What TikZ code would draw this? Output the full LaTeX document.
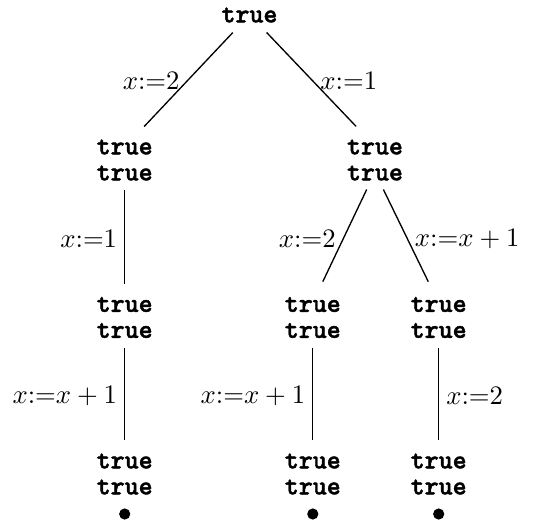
\documentclass[tikz,border=0pt]{standalone}
\usepackage{fontspec}
\usetikzlibrary{positioning}
\newfontfamily\statefont{lmmonolt10-bold}[Extension=.otf,FakeBold=1.6]
\tikzset{
  state/.style={align=center,inner sep=0pt,outer sep=0pt,font=\statefont\fontsize{10}{9.75}\selectfont},
  leaf/.style={circle,fill=black,inner sep=0pt,minimum size=4.2pt},
  branch/.style={line width=0.5pt,shorten <=3.6pt,shorten >=5pt},
  act/.style={inner sep=2.6pt}
}
\begin{document}
\begin{tikzpicture}[x=0.375pt,y=-0.375pt]
    \useasboundingbox (0,0) rectangle (558,524);

    % root and first level
    \node[state] (root) at (249.5,15) {true};
    \node[state] (l) at (124.7,160) {true\\true};
    \node[state] (r) at (375,160) {true\\true};

    % second level
    \node[state] (ll) at (124.7,317.5) {true\\true};
    \node[state] (rl) at (312.8,317.5) {true\\true};
    \node[state] (rr) at (438.7,317.5) {true\\true};

    % third level
    \node[state] (lll) at (124.7,474) {true\\true};
    \node[state] (rll) at (312.8,474) {true\\true};
    \node[state] (rrr) at (438.7,474) {true\\true};

    % end markers
    \node[leaf] (e1) at (124.7,514) {};
    \node[leaf] (e2) at (312.8,514) {};
    \node[leaf] (e3) at (438.7,514) {};

    \draw[branch,shorten <=5.2pt,shorten >=6.7pt] ([xshift=-2.7pt]root.south) -- node[act,left]{$x{:=}2$} ([xshift=2.7pt]l.north);
    \draw[branch,shorten <=5.2pt,shorten >=6.8pt] ([xshift=2.85pt]root.south) -- node[act,right]{$x{:=}1$} ([xshift=-2.4pt]r.north);

    \draw[branch] (l) -- node[act,left]{$x{:=}1$} (ll);
    \draw[branch,shorten <=3.75pt,shorten >=6.4pt] ([xshift=-1.5pt]r.south) -- node[act,left]{$x{:=}2$} ([xshift=1pt]rl.north);
    \draw[branch,shorten <=3.75pt,shorten >=6.4pt] ([xshift=1.5pt]r.south) -- node[act,right]{$x{:=}x+1$} ([xshift=-1.1pt]rr.north);

    \draw[branch] (ll) -- node[act,left]{$x{:=}x+1$} (lll);
    \draw[branch] (rl) -- node[act,left]{$x{:=}x+1$} (rll);
    \draw[branch] (rr) -- node[act,right]{$x{:=}2$} (rrr);
\end{tikzpicture}
\end{document}
